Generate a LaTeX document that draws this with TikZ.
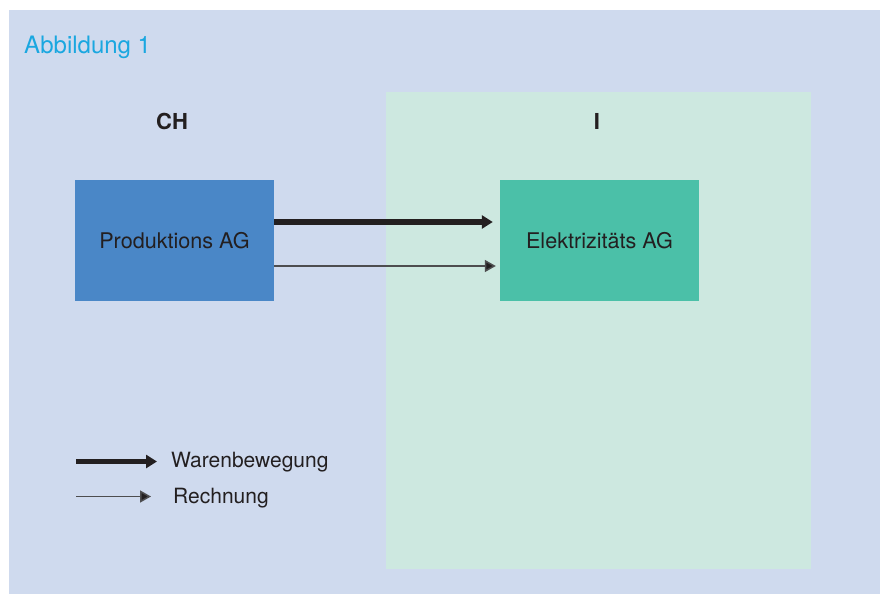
\documentclass[tikz,border=0pt]{standalone}
\usepackage{fontspec}
\setmainfont{TeX Gyre Heros}
\usetikzlibrary{arrows.meta,calc}
\definecolor{bgblue}{HTML}{CFDAEE}
\definecolor{bggreen}{HTML}{CDE8E0}
\definecolor{boxblue}{HTML}{4A87C7}
\definecolor{boxgreen}{HTML}{4BC0A8}
\definecolor{txt}{HTML}{231F20}
\definecolor{title}{HTML}{1AA7E0}
\definecolor{thinline}{HTML}{4D4D4F}
\tikzset{
  company/.style={minimum width=199pt,minimum height=121pt,inner sep=0pt,text=txt,font=\fontsize{21.6}{26}\selectfont},
  country/.style={text=txt,font=\fontsize{22}{26}\selectfont\bfseries,inner sep=0pt},
  legendtext/.style={text=txt,font=\fontsize{21}{25}\selectfont,inner sep=0pt,anchor=west},
  goods/.style={draw=txt,line width=5.5pt,-{Triangle[length=11pt,width=13pt]}},
  invoice/.style={draw=thinline,line width=1.5pt,-{Triangle[length=11pt,width=12pt,fill=txt]}},
}
\begin{document}
\begin{tikzpicture}[x=1pt,y=-1pt]
\useasboundingbox (0,0) rectangle (880,594);
\fill[bgblue] (9,10) rectangle (880,594);
\fill[bggreen] (386,92) rectangle (811,569);
\node[anchor=west,text=title,font=\fontsize{24}{28}\selectfont,inner sep=0pt] (title) at (24,47) {Abbildung 1};
\node[country] (ch) at (172,121) {CH};
\node[country] (it) at (597,121) {I};
\node[company,fill=boxblue] (prod) at (174.5,240.5) {Produktions AG};
\node[company,fill=boxgreen] (elek) at (599.5,240.5) {Elektrizitäts AG};
\draw[goods,shorten >=7pt] ($(prod.east)+(0,-18.5)$) -- ($(elek.west)+(0,-18.5)$);
\draw[invoice,shorten >=4pt] ($(prod.east)+(0,25.5)$) -- ($(elek.west)+(0,25.5)$);
\node[legendtext] (lgoods) at (171,462) {Warenbewegung};
\node[legendtext] (linv) at (173,498) {Rechnung};
\coordinate (g0) at (76,461.5);
\coordinate (i0) at (76,496.5);
\draw[goods,shorten >=14pt] (g0) -- (lgoods.west |- g0);
\draw[invoice,shorten >=22pt] (i0) -- (linv.west |- i0);
\end{tikzpicture}
\end{document}
